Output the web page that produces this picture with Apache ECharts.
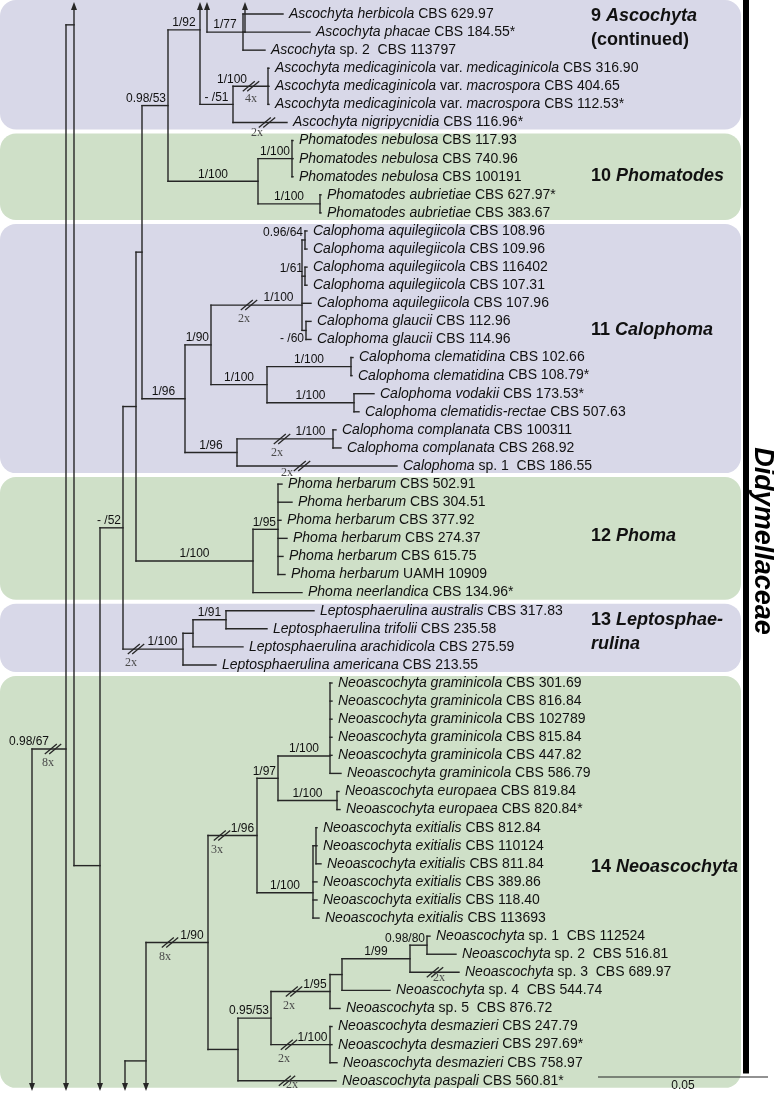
<!DOCTYPE html>
<html><head><meta charset="utf-8">
<script src="https://cdn.jsdelivr.net/npm/echarts@6/dist/echarts.min.js"></script>
<style>html,body{margin:0;padding:0;background:#fff}#c{width:774px;height:1094px}</style>
</head><body><div id="c"></div>
<script>
// ---------------- DATA ----------------
// Leaf labels (italic parts between underscores), top to bottom
const leafNames = [
 "_Ascochyta herbicola_ CBS 629.97",
 "_Ascochyta phacae_ CBS 184.55*",
 "_Ascochyta_ sp. 2  CBS 113797",
 "_Ascochyta medicaginicola_ var. _medicaginicola_ CBS 316.90",
 "_Ascochyta medicaginicola_ var. _macrospora_ CBS 404.65",
 "_Ascochyta medicaginicola_ var. _macrospora_ CBS 112.53*",
 "_Ascochyta nigripycnidia_ CBS 116.96*",
 "_Phomatodes nebulosa_ CBS 117.93",
 "_Phomatodes nebulosa_ CBS 740.96",
 "_Phomatodes nebulosa_ CBS 100191",
 "_Phomatodes aubrietiae_ CBS 627.97*",
 "_Phomatodes aubrietiae_ CBS 383.67",
 "_Calophoma aquilegiicola_ CBS 108.96",
 "_Calophoma aquilegiicola_ CBS 109.96",
 "_Calophoma aquilegiicola_ CBS 116402",
 "_Calophoma aquilegiicola_ CBS 107.31",
 "_Calophoma aquilegiicola_ CBS 107.96",
 "_Calophoma glaucii_ CBS 112.96",
 "_Calophoma glaucii_ CBS 114.96",
 "_Calophoma clematidina_ CBS 102.66",
 "_Calophoma clematidina_ CBS 108.79*",
 "_Calophoma vodakii_ CBS 173.53*",
 "_Calophoma clematidis-rectae_ CBS 507.63",
 "_Calophoma complanata_ CBS 100311",
 "_Calophoma complanata_ CBS 268.92",
 "_Calophoma_ sp. 1  CBS 186.55",
 "_Phoma herbarum_ CBS 502.91",
 "_Phoma herbarum_ CBS 304.51",
 "_Phoma herbarum_ CBS 377.92",
 "_Phoma herbarum_ CBS 274.37",
 "_Phoma herbarum_ CBS 615.75",
 "_Phoma herbarum_ UAMH 10909",
 "_Phoma neerlandica_ CBS 134.96*",
 "_Leptosphaerulina australis_ CBS 317.83",
 "_Leptosphaerulina trifolii_ CBS 235.58",
 "_Leptosphaerulina arachidicola_ CBS 275.59",
 "_Leptosphaerulina americana_ CBS 213.55",
 "_Neoascochyta graminicola_ CBS 301.69",
 "_Neoascochyta graminicola_ CBS 816.84",
 "_Neoascochyta graminicola_ CBS 102789",
 "_Neoascochyta graminicola_ CBS 815.84",
 "_Neoascochyta graminicola_ CBS 447.82",
 "_Neoascochyta graminicola_ CBS 586.79",
 "_Neoascochyta europaea_ CBS 819.84",
 "_Neoascochyta europaea_ CBS 820.84*",
 "_Neoascochyta exitialis_ CBS 812.84",
 "_Neoascochyta exitialis_ CBS 110124",
 "_Neoascochyta exitialis_ CBS 811.84",
 "_Neoascochyta exitialis_ CBS 389.86",
 "_Neoascochyta exitialis_ CBS 118.40",
 "_Neoascochyta exitialis_ CBS 113693",
 "_Neoascochyta_ sp. 1  CBS 112524",
 "_Neoascochyta_ sp. 2  CBS 516.81",
 "_Neoascochyta_ sp. 3  CBS 689.97",
 "_Neoascochyta_ sp. 4  CBS 544.74",
 "_Neoascochyta_ sp. 5  CBS 876.72",
 "_Neoascochyta desmazieri_ CBS 247.79",
 "_Neoascochyta desmazieri_ CBS 297.69*",
 "_Neoascochyta desmazieri_ CBS 758.97",
 "_Neoascochyta paspali_ CBS 560.81*"
];
// Tip depth of every leaf (tree distance units; 170 units = 0.05 subst./site)
const leafTips = [
 283,310,265,269,269,269,287,
 293,293,293,321,321,
 307,307,307,307,311,311,311,353,352,374,359,336,341,397,
 282,292,281,287,283,285,302,
 314,267,243,216,
 332,332,332,332,332,341,339,340,
 317,317,321,317,317,319,
 430,456,459,390,340,332,332,337,336
];
// Internal nodes: depth, children (number = leaf index), support value,
// compressed-branch mark (depth, factor), off-page arrow, attach row (only where drawn off-centre)
const treeNodes = [
 {id:'g77',  x:207, kids:['n77'], arrow:'up'},
 {id:'n77',  x:243, kids:[0,'pPh',2], sup:'1/77'},
 {id:'pPh',  x:245, kids:[1], arrow:'up'},
 {id:'n92',  x:200, kids:['n51'], sup:'1/92', arrow:'up', row:0.88},
 {id:'n51',  x:233, kids:['nMed',6], sup:'- /51'},
 {id:'nMed', x:268, kids:[3,4,5], sup:'1/100', brk:251, mult:'4x'},
 {id:'n5398',x:168, kids:['n92','nPhd'], sup:'0.98/53'},
 {id:'nPhd', x:258, kids:['nNeb','nAub'], sup:'1/100'},
 {id:'nNeb', x:292, kids:[7,8,9], sup:'1/100'},
 {id:'nAub', x:320, kids:[10,11], sup:'1/100'},
 {id:'n142', x:142, kids:['n5398','nCal']},
 {id:'nCal', x:185, kids:['n90','nCom'], sup:'1/96'},
 {id:'n90',  x:211, kids:['nAq','nCle'], sup:'1/90'},
 {id:'nAq',  x:302, kids:['n9664','n161',16,'n60'], sup:'1/100', brk:249, mult:'2x', row:16.1},
 {id:'n9664',x:305, kids:[12,13], sup:'0.96/64'},
 {id:'n161', x:305, kids:[14,15], sup:'1/61'},
 {id:'n60',  x:306, kids:[17,18], sup:'- /60'},
 {id:'nCle', x:267, kids:['nCl2','nVod'], sup:'1/100'},
 {id:'nCl2', x:351, kids:[19,20], sup:'1/100'},
 {id:'nVod', x:354, kids:[21,22], sup:'1/100'},
 {id:'nCom', x:237, kids:['nCp2',25], sup:'1/96'},
 {id:'nCp2', x:333, kids:[23,24], sup:'1/100', brk:282, mult:'2x'},
 {id:'n136', x:136, kids:['n142','nPho']},
 {id:'nPho', x:253, kids:['nHer',32], sup:'1/100'},
 {id:'nHer', x:278, kids:[26,27,28,29,30,31], sup:'1/95'},
 {id:'n123', x:123, kids:['n136','nLep'], sup:'- /52'},
 {id:'nLep', x:183, kids:['nL2',36], sup:'1/100', brk:136, mult:'2x'},
 {id:'nL2',  x:193, kids:['n91',35]},
 {id:'n91',  x:226, kids:[33,34], sup:'1/91'},
 {id:'n100', x:100, kids:['n123'], arrow:'down', row:47.1},
 {id:'n74',  x:74,  kids:['n100'], arrow:'up', row:0.6},
 {id:'n66',  x:66,  kids:['n74'], arrow:'down', row:40.65, sup:'0.98/67', brk:53, mult:'8x'},
 {id:'n32',  x:32,  kids:['n66'], arrow:'down'},
 {id:'n125', x:125, kids:['n146'], arrow:'down'},
 {id:'n146', x:146, kids:['nNeo'], arrow:'down', row:57.9},
 {id:'nNeo', x:208, kids:['n96','n9553'], sup:'1/90', brk:170, mult:'8x'},
 {id:'n96',  x:257, kids:['n97','nExi'], sup:'1/96', brk:222, mult:'3x'},
 {id:'n97',  x:278, kids:['nGra','nEur'], sup:'1/97'},
 {id:'nGra', x:330, kids:[37,38,39,40,41,42], sup:'1/100', row:41.04},
 {id:'nEur', x:337, kids:[43,44], sup:'1/100'},
 {id:'nExi', x:313, kids:['nEx1',48,49,50], sup:'1/100', row:48.6},
 {id:'nEx1', x:316, kids:[45,46,47]},
 {id:'n9553',x:238, kids:['n271',59]},
 {id:'n271', x:271, kids:['n95','nDes'], sup:'0.95/53'},
 {id:'n95',  x:330, kids:['n342',55], sup:'1/95', brk:294, mult:'2x'},
 {id:'n342', x:342, kids:['n99',54]},
 {id:'n99',  x:410, kids:['n9880',53], sup:'1/99'},
 {id:'n9880',x:427, kids:[51,52], sup:'0.98/80'},
 {id:'nDes', x:330, kids:[56,57,58], sup:'1/100', brk:289, mult:'2x'}
];
// Compressed terminal branches: leaf index -> [depth of mark, factor]
const leafBreaks = {6:[267,'2x'], 25:[302,'2x'], 53:[435,'2x'], 59:[287,'2x']};
// Genus clades (leaf row ranges) and their labels
const clades = [
 {rows:[0,6],   tone:'violet', cont:true, label:['9 _Ascochyta_','(continued)'], labelRow:0.78},
 {rows:[7,11],  tone:'green',  label:['10 _Phomatodes_'], labelRow:8.96},
 {rows:[12,25], tone:'violet', label:['11 _Calophoma_'], labelRow:17.48},
 {rows:[26,32], tone:'green',  label:['12 _Phoma_'], labelRow:28.87},
 {rows:[33,36], tone:'violet', label:['13 _Leptosphae-_','_rulina_'], labelRow:34.17},
 {rows:[37,59], tone:'green',  label:['14 _Neoascochyta_'], labelRow:47.18}
];
const familyName = 'Didymellaceae';
const familyRow = 29.15;
const scaleBar = {length:170, label:'0.05'};

// ---------------- LAYOUT / STYLE ----------------
const YMIN = -0.774, YMAX = 59.73;
const FONT = '"Liberation Sans", Arial, Helvetica, sans-serif';
const SERIF = '"Liberation Serif", "Times New Roman", serif';
const INK = '#262626', LW = 1.4;
const TONES = {violet:'#d8d8e8', green:'#cfe0c8'};
const PANEL_RIGHT = 741, CLADE_LABEL_X = 591;
const BAR_X = 743, BAR_W = 6, BAR_END_ROW = 58.6;
const SCALE_X = 598, SCALE_ROW = 58.79;
const supportNudge = {n60:{dy:15}};
const breakTextNudge = {L6:[-10,10], L25:[-15,7], L53:[4,6], L59:[5,4], nMed:[0,13]};

const nodeById = {}; treeNodes.forEach(n => nodeById[n.id] = n);
const isLeaf = k => typeof k === 'number';
function rowOf(k){
  if (isLeaf(k)) return k;
  const n = nodeById[k];
  if (n._row !== undefined) return n._row;
  n._kidRows = n.kids.map(rowOf);
  n._row = (n.row !== undefined) ? n.row : (n._kidRows[0] + n._kidRows[n._kidRows.length-1]) / 2;
  return n._row;
}
treeNodes.forEach(n => rowOf(n.id));
const xOf = k => isLeaf(k) ? leafTips[k] : nodeById[k].x;

const mctx = document.createElement('canvas').getContext('2d');
function textW(t, font){ mctx.font = font; return mctx.measureText(t).width; }
function markup(s, a, b){
  return s.split('_').map((seg,i)=> seg ? '{' + (i%2 ? b : a) + '|' + seg + '}' : '').join('');
}

function renderAll(params, api){
  const P = (x,r) => api.coord([x,r]);
  const ch = [];
  const line = (x1,y1,x2,y2,w,c,cap) => ch.push({type:'line', shape:{x1,y1,x2,y2},
      style:{stroke:c||INK, lineWidth:w||LW, lineCap:cap||'square'}});
  const text = (x,y,t,style) => ch.push({type:'text', x, y, style:Object.assign({text:t}, style)});

  // clade panels
  const topPx = P(0,YMIN)[1], botPx = P(0,YMAX)[1];
  const x0 = P(0,0)[0], xr = P(PANEL_RIGHT,0)[0];
  clades.forEach(c => {
    const yt = c.cont ? topPx : P(0,c.rows[0]-0.5)[1] + 2;
    const yb = P(0,c.rows[1]+0.5)[1] - 2;
    ch.push({type:'rect', shape:{x:x0, y:yt, width:xr-x0, height:yb-yt, r:16}, style:{fill:TONES[c.tone]}});
    const [lx, ly] = P(CLADE_LABEL_X, c.labelRow);
    text(lx, ly, c.label.map(l => markup(l,'b','bi')).join('\n'), {
      align:'left', verticalAlign:'middle', lineHeight:24,
      rich:{ b:{fontFamily:FONT, fontSize:18, fontWeight:'bold', fill:'#111', lineHeight:24},
             bi:{fontFamily:FONT, fontSize:18, fontWeight:'bold', fontStyle:'italic', fill:'#111', lineHeight:24} }
    });
  });

  // tree
  const supFont = '12px ' + FONT;
  const drawBreak = (bx, y, mult, key) => {
    [-2.2, 2.2].forEach(o => line(bx-6+o, y+5, bx+6+o, y-5, 1.3, INK, 'butt'));
    const nd = breakTextNudge[key] || [-5, 14];
    text(bx + nd[0], y + nd[1], mult, {align:'center', verticalAlign:'middle',
      font:'12px ' + SERIF, fill:'#4a4a4a'});
  };
  treeNodes.forEach(n => {
    const rows = n._kidRows.concat([n._row]);
    const nx = P(n.x, 0)[0];
    let ya = P(0, Math.min(...rows))[1], yb = P(0, Math.max(...rows))[1];
    if (n.arrow === 'up'){
      const tip = topPx + 2; ya = tip + 6;
      ch.push({type:'polygon', shape:{points:[[nx,tip],[nx-3,tip+8],[nx+3,tip+8]]}, style:{fill:INK}});
    }
    if (n.arrow === 'down'){
      const tip = botPx - 3; yb = tip - 6;
      ch.push({type:'polygon', shape:{points:[[nx,tip],[nx-3,tip-8],[nx+3,tip-8]]}, style:{fill:INK}});
    }
    line(nx, ya, nx, yb);
    n.kids.forEach((k, i) => {
      const ky = P(0, n._kidRows[i])[1], kx = P(xOf(k), 0)[0];
      line(nx, ky, kx, ky);
      let brk = null, key = null;
      if (isLeaf(k) && leafBreaks[k]) { brk = leafBreaks[k]; key = 'L' + k; }
      if (!isLeaf(k) && nodeById[k].brk) { brk = [nodeById[k].brk, nodeById[k].mult]; key = k; }
      let bpx = null;
      if (brk){ bpx = P(brk[0],0)[0]; drawBreak(bpx, ky, brk[1], key); }
      if (!isLeaf(k) && nodeById[k].sup){
        const s = nodeById[k].sup, w = textW(s, supFont);
        const segStart = bpx !== null ? bpx + 6 : nx;
        let lx, al;
        if (w + 4 <= kx - segStart){ lx = (segStart + kx) / 2; al = 'center'; }
        else if (bpx !== null){ lx = bpx - 4; al = 'right'; }
        else { lx = kx - 2; al = 'right'; }
        const nd = supportNudge[k] || {};
        text(lx, ky - 7 + (nd.dy||0), s, {align:al, verticalAlign:'middle', font:supFont, fill:'#111'});
      }
    });
  });

  // leaf labels
  const rich = { n:{fontFamily:FONT, fontSize:14, fill:'#111'},
                 i:{fontFamily:FONT, fontSize:14, fontStyle:'italic', fill:'#111'} };
  leafNames.forEach((nm, i) => {
    const [x, y] = P(leafTips[i], i);
    text(x + 6, y, markup(nm,'n','i'), {align:'left', verticalAlign:'middle', rich});
  });

  // family bar and name
  const bx = P(BAR_X,0)[0], by1 = P(0,BAR_END_ROW)[1];
  ch.push({type:'rect', shape:{x:bx, y:topPx, width:BAR_W, height:by1-topPx}, style:{fill:'#000'}});
  const midY = P(0, familyRow)[1];
  ch.push({type:'text', x: bx + BAR_W + 13, y: midY, rotation: -Math.PI/2,
    style:{text:familyName, align:'center', verticalAlign:'middle',
      font:'italic bold 27px ' + FONT, fill:'#000'}});

  // scale bar
  const [sx, sy] = P(SCALE_X, SCALE_ROW), ex = P(SCALE_X + scaleBar.length, 0)[0];
  line(sx, sy, ex, sy, 1.2, INK, 'butt');
  text((sx+ex)/2, sy + 9, scaleBar.label, {align:'center', verticalAlign:'middle', font:'12px ' + FONT, fill:'#111'});

  return {type:'group', children: ch};
}

const chart = echarts.init(document.getElementById('c'));
chart.setOption({
  animation:false,
  grid:{left:0, right:0, top:0, bottom:0},
  xAxis:{type:'value', min:0, max:774, show:false},
  yAxis:{type:'value', min:YMIN, max:YMAX, inverse:true, show:false},
  series:[{type:'custom', clip:false, renderItem:renderAll, data:[[0,0]]}]
});
</script></body></html>
